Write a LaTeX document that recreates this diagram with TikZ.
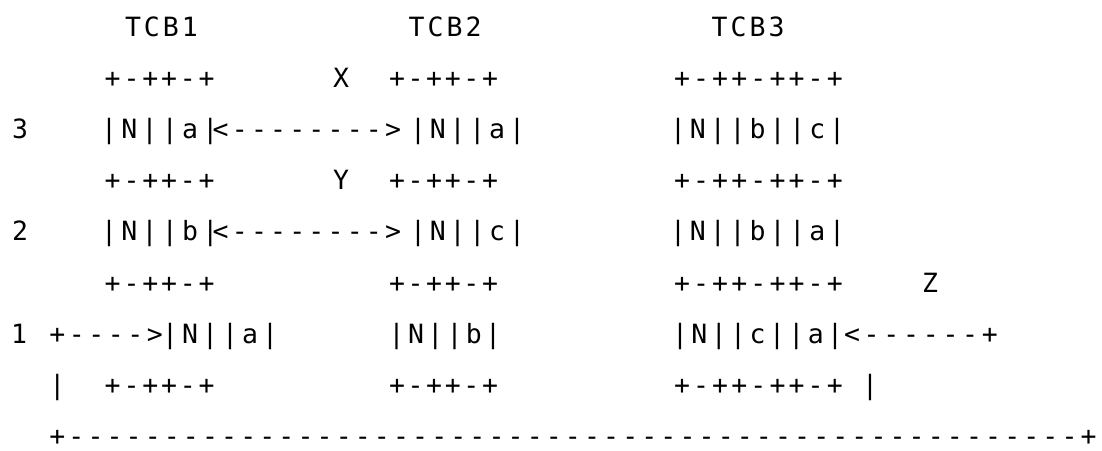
\documentclass[tikz,border=0pt]{standalone}
\usepackage{fontspec}
\newfontfamily\ascfont{DejaVu Sans Mono}
\makeatletter
\newcommand\spaced[2]{\def\spaced@w{#1}\@tfor\spaced@c:=#2\do{\makebox[\spaced@w][c]{\spaced@c}}}
\makeatother
\tikzset{asc/.style={anchor=base west, inner sep=0pt, outer sep=0pt, font=\ascfont\fontsize{26.5pt}{26.5pt}\selectfont}}
% #1 name, #2 centre x of first character, #3 row, #4 pitch, #5 text
\newcommand\seg[5]{\node[asc] (#1) at ({#2-#4/2},{-(36+51.2*#3)}) {\spaced{#4pt}{#5}};}
\begin{document}
\begin{tikzpicture}[x=1pt,y=1pt]
\useasboundingbox (0,0) rectangle (1102,-450);
% row 0
\seg{t1}{133}{0}{19}{TCB1}
\seg{t2}{416.5}{0}{19}{TCB2}
\seg{t3}{719.5}{0}{19}{TCB3}
% row 1
\seg{r1a}{112.7}{1}{18.8}{+-++-+}
\seg{lx}{341}{1}{19}{X}
\seg{r1b}{397}{1}{18.6}{+-++-+}
\seg{r1c}{682}{1}{19.1}{+-++-++-+}
% row 2
\seg{l3}{20}{2}{19}{3}
\seg{r2a}{109}{2}{20.3}{|N||a|}
\seg{r2ar}{220.7}{2}{19.15}{<-------->}
\seg{r2b}{418}{2}{19.8}{|N||a|}
\seg{r2c}{678}{2}{19.9}{|N||b||c|}
% row 3
\seg{r3a}{112.7}{3}{18.8}{+-++-+}
\seg{ly}{341}{3}{19}{Y}
\seg{r3b}{397}{3}{18.6}{+-++-+}
\seg{r3c}{682}{3}{19.1}{+-++-++-+}
% row 4
\seg{l2}{20}{4}{19}{2}
\seg{r4a}{109}{4}{20.3}{|N||b|}
\seg{r4ar}{220.7}{4}{19.15}{<-------->}
\seg{r4b}{418}{4}{19.8}{|N||c|}
\seg{r4c}{678}{4}{19.9}{|N||b||a|}
% row 5
\seg{r5a}{112.7}{5}{18.8}{+-++-+}
\seg{r5b}{397}{5}{18.6}{+-++-+}
\seg{r5c}{682}{5}{19.1}{+-++-++-+}
\seg{lz}{930}{5}{19}{Z}
% row 6
\seg{l1}{19}{6}{19}{1}
\seg{r6ar}{57.3}{6}{19.5}{+---->}
\seg{r6a}{170}{6}{20}{|N||a|}
\seg{r6b}{396.7}{6}{19.3}{|N||b|}
\seg{r6c}{680}{6}{19.4}{|N||c||a|}
\seg{r6ar2}{852}{6}{19.7}{<------+}
% row 7
\seg{r7l}{57.3}{7}{19}{|}
\seg{r7a}{112.7}{7}{18.8}{+-++-+}
\seg{r7b}{397}{7}{18.6}{+-++-+}
\seg{r7c}{682}{7}{19.1}{+-++-++-+}
\seg{r7r}{870}{7}{19}{|}
% row 8
\seg{r8}{57.3}{8}{19.1}{+-----------------------------------------------------+}
\end{tikzpicture}
\end{document}
